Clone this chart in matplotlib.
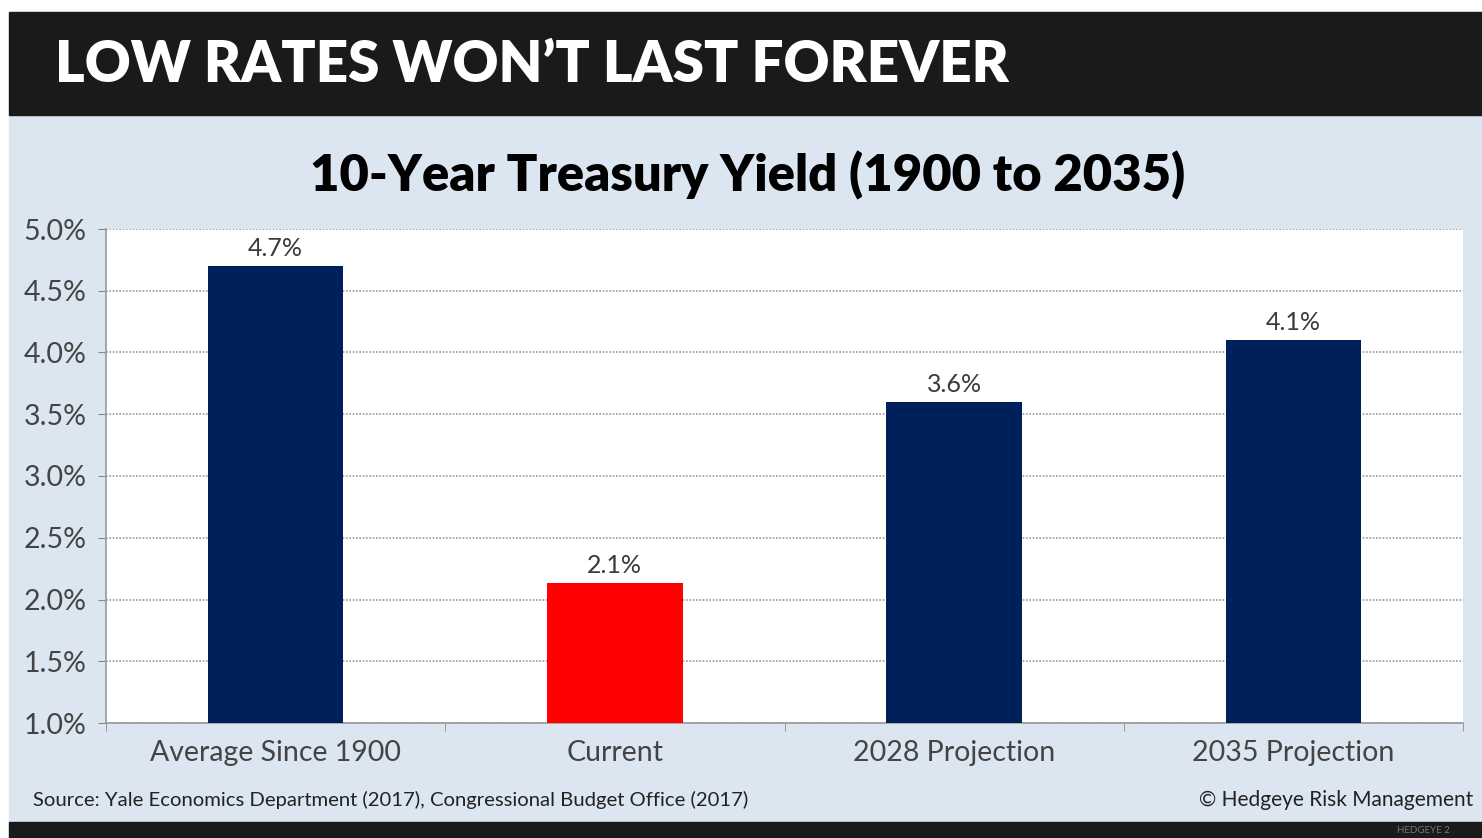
import matplotlib.pyplot as plt
from matplotlib.patches import Rectangle

# data
categories = ['Average Since 1900', 'Current', '2028 Projection', '2035 Projection']
values = [4.7, 2.13, 3.6, 4.1]
labels = ['4.7%', '2.1%', '3.6%', '4.1%']
colors = ['#00205b', '#ff0000', '#00205b', '#00205b']
yticks = [1.0, 1.5, 2.0, 2.5, 3.0, 3.5, 4.0, 4.5, 5.0]

plt.rcParams['font.family'] = ['Lato', 'DejaVu Sans']

fig = plt.figure(figsize=(14.82, 8.38), dpi=100)
fig.patch.set_facecolor('white')

# background panels
fig.patches.append(Rectangle((9/1482, 0), 1, 1 - 115/838, transform=fig.transFigure,
                             color='#dce6f1', zorder=-5))
fig.patches.append(Rectangle((9/1482, 1 - 115/838), 1, 103/838, transform=fig.transFigure,
                             color='#1a1a1a', zorder=-5))
fig.patches.append(Rectangle((9/1482, 0), 1, 16/838, transform=fig.transFigure,
                             color='#1a1a1a', zorder=-5))

fig.text(55/1482, 1 - 65/838, 'LOW RATES WON\u2019T LAST FOREVER', color='white',
         fontsize=40.7, fontweight='heavy', va='center', ha='left')
fig.text(748/1482, 1 - 175/838, '10-Year Treasury Yield (1900 to 2035)', color='black',
         fontsize=36.5, fontweight='heavy', va='center', ha='center')

ax = fig.add_axes([106/1482, 1 - 723/838, (1463 - 106)/1482, (723 - 229)/838])
ax.set_facecolor('white')
x = range(len(categories))
ax.bar(x, values, width=0.4, color=colors, zorder=3)
for i, v in enumerate(values):
    ax.text(i, v + 0.05, labels[i], ha='center', va='bottom', fontsize=18, color='#3a3a3a')

ax.set_ylim(1.0, 5.0)
ax.set_xlim(-0.5, len(categories) - 0.5)
ax.set_yticks(yticks)
ax.set_yticklabels(['%.1f%%' % t for t in yticks], fontsize=20.5, color='#444444')
ax.yaxis.grid(True, linestyle=(0, (1, 1)), color='#999999', linewidth=1.2, zorder=0)
ax.set_axisbelow(True)

ax.set_xticks(list(x))
ax.set_xticklabels(categories, fontsize=20.5, color='#444444')
ax.tick_params(axis='x', length=0, pad=12)
ax.set_xticks([i + 0.5 for i in range(-1, len(categories))], minor=True)
ax.tick_params(axis='x', which='minor', length=6, color='#888888', direction='out')
ax.tick_params(axis='y', length=6, color='#888888', pad=8)

for s in ['top', 'right']:
    ax.spines[s].set_visible(False)
for s in ['left', 'bottom']:
    ax.spines[s].set_color('#999999')
    ax.spines[s].set_linewidth(1.2)

fig.text(33/1482, 1 - 800/838, 'Source: Yale Economics Department (2017), Congressional Budget Office (2017)',
         fontsize=14.6, color='#222222', va='center', ha='left')
fig.text(1473/1482, 1 - 800/838, '\u00a9 Hedgeye Risk Management',
         fontsize=15, color='#222222', va='center', ha='right')
fig.text(1450/1482, 1 - 830/838, 'HEDGEYE 2', fontsize=7, color='#777777', va='center', ha='right')

fig.savefig('out.png', dpi=100)
